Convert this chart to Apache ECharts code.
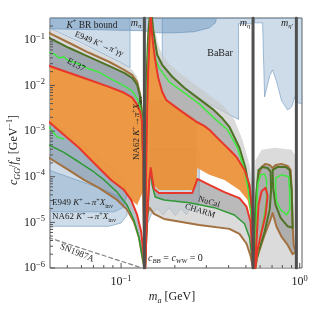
<!DOCTYPE html>
<html><head><meta charset="utf-8">
<script src="https://cdn.jsdelivr.net/npm/echarts@6/dist/echarts.min.js"></script>
<style>html,body{margin:0;padding:0;background:#fff}#c{width:332px;height:312px}</style>
</head><body><div id="c"></div>
<script>
// ---------- axes ----------
const X_MIN = 0.04, X_MAX = 1.03, Y_MIN = 1e-6, Y_MAX = 0.3;
const massLines = [0.135, 0.548, 0.958];           // m_pi, m_eta, m_eta'
const yMajor = [1e-6, 1e-5, 1e-4, 1e-3, 1e-2, 1e-1];
const yMinorMult = [2, 3, 4, 5, 6, 7, 8, 9];
const xMajor = [0.1, 1];
const xMinor = [0.05, 0.06, 0.07, 0.08, 0.09, 0.2, 0.3, 0.4, 0.5, 0.6, 0.7, 0.8, 0.9];

// ---------- curves  [m_a (GeV), c_GG/f_a (GeV^-1)] ----------
const brownUpperL = [[0.0394,0.142],[0.051,0.086],[0.0661,0.0519],[0.0856,0.033],[0.104,0.022],[0.1153,0.0171],[0.123,0.012],[0.128,0.0062],[0.131,0.0023],[0.133,2.3e-4],[0.135,1e-6]];
const brownLowerL = [[0.0394,2.6e-4],[0.051,1.4e-4],[0.062,8.5e-5],[0.0752,5.7e-5],[0.095,3.1e-5],[0.108,1.9e-5],[0.118,1.02e-5],[0.126,4.6e-6],[0.131,1.9e-6],[0.135,1e-6]];
const brownLowerR = [[0.1364,1e-6],[0.138,5.3e-6],[0.140,1.45e-5],[0.144,2.1e-5],[0.153,1.53e-5],[0.174,1.19e-5],[0.274,8.8e-6],[0.404,7.2e-6],[0.460,5.6e-6],[0.504,3.4e-6],[0.531,1.83e-6],[0.548,1e-6]];
const brownEta = [[0.552,1e-6],[0.559,6.8e-6],[0.5735,4.0e-5],[0.588,1.1e-4],[0.612,1.64e-4],[0.644,1.91e-4],[0.679,1.8e-4],[0.705,1.56e-4],[0.733,1.8e-4],[0.792,1.91e-4],[0.856,1.73e-4],[0.890,1.4e-4],[0.902,5.1e-5],[0.913,8.8e-6],[0.925,3.2e-6],[0.950,2.24e-6],[0.913,2.0e-6],[0.856,3.2e-6],[0.792,4.8e-6],[0.743,7.9e-6],[0.705,1.6e-5],[0.679,1.02e-5],[0.636,5.3e-6],[0.596,2.5e-6],[0.566,1.36e-6],[0.552,1e-6]];

const oliveUpperL = [[0.0394,0.111],[0.051,0.0668],[0.0661,0.0423],[0.0856,0.0269],[0.104,0.0189],[0.1153,0.0147],[0.123,0.0103],[0.128,0.0056],[0.131,0.0021],[0.133,2.3e-4],[0.135,1e-6]];
const oliveR = [[0.1364,1e-6],[0.1373,2.3e-4],[0.1382,0.0048],[0.140,0.0364],[0.1418,0.129],[0.1465,0.6],[0.1513,0.164],[0.1552,0.086],[0.1593,0.0469],[0.170,0.0283],[0.1934,0.0155],[0.226,0.00886],[0.264,0.0056],[0.3245,0.00307],[0.369,0.0019],[0.404,0.00124],[0.460,0.00043],[0.497,1.56e-4],[0.524,5.1e-5],[0.5375,1.45e-5],[0.548,1e-6]];
const oliveEtaL = [[0.5515,1e-6],[0.559,8.8e-6],[0.5735,5.1e-5],[0.588,1.4e-4],[0.620,1.64e-4],[0.661,1.56e-4],[0.6875,1.27e-4],[0.692,5.1e-5],[0.679,1.9e-5],[0.636,6.2e-6],[0.588,2.24e-6],[0.559,1e-6]];
const oliveEtaR = [[0.705,1.4e-4],[0.752,1.64e-4],[0.834,1.64e-4],[0.879,1.4e-4],[0.902,5.1e-5],[0.913,7.6e-6],[0.856,8.2e-6],[0.782,1.25e-5],[0.733,2.4e-5],[0.710,5.7e-5],[0.705,1.4e-4]];

const greenUpperL = [[0.0394,0.0519],[0.042,0.049],[0.0448,0.0405],[0.0478,0.042],[0.051,0.0346],[0.0581,0.0295],[0.0661,0.0231],[0.0752,0.0195],[0.0856,0.0147],[0.104,0.0098],[0.1153,0.0076],[0.123,0.0051],[0.128,0.0032],[0.131,0.0018],[0.133,2.3e-4],[0.135,1e-6]];
const greenR = [[0.1364,1e-6],[0.1382,3.9e-4],[0.140,0.008],[0.1418,0.0469],[0.1446,0.164],[0.1465,0.35],[0.1484,0.164],[0.1513,0.0777],[0.1552,0.0403],[0.163,0.0243],[0.186,0.012],[0.226,0.0069],[0.274,0.00395],[0.333,0.0019],[0.394,0.00107],[0.448,0.00043],[0.491,1.4e-4],[0.517,4.6e-5],[0.5375,1.13e-5],[0.548,1e-6]];
const greenLowerL = [[0.0394,0.00124],[0.0437,7.5e-4],[0.0478,6.7e-4]];
const greenEtaL = [[0.566,1e-6],[0.5735,1.9e-5],[0.581,6.6e-5],[0.604,1.1e-4],[0.636,1.15e-4],[0.6525,8.5e-5],[0.6525,3.1e-5],[0.628,1.13e-5],[0.604,5.3e-6],[0.581,2.24e-6],[0.569,1e-6]];
const greenEtaR = [[0.733,9.4e-5],[0.792,1.1e-4],[0.867,1e-4],[0.879,4.6e-5],[0.879,1.9e-5],[0.845,1.45e-5],[0.782,1.9e-5],[0.743,2.8e-5],[0.733,5.1e-5],[0.733,9.4e-5]];

const redUpperL = [[0.0394,0.0269],[0.051,0.0189],[0.0661,0.0133],[0.0856,0.0093],[0.104,0.0069],[0.1153,0.0054],[0.123,0.0038],[0.128,0.00264],[0.131,0.0016],[0.133,2.3e-4],[0.135,1e-6]];
const redLowerL = [[0.0394,0.0016],[0.0478,8.3e-4],[0.0581,4.3e-4],[0.0705,2.0e-4],[0.0879,8.5e-5],[0.104,5.1e-5],[0.1138,3.1e-5],[0.123,1.45e-5],[0.1296,6.2e-6],[0.133,2.5e-6],[0.135,1e-6]];
const redR = [[0.1364,1e-6],[0.1382,1.4e-4],[0.140,0.0029],[0.1418,0.022],[0.1446,0.129],[0.1465,0.35],[0.1484,0.164],[0.1513,0.0777],[0.1552,0.0364],[0.1614,0.0147],[0.170,0.0072],[0.179,0.0048],[0.198,0.00357],[0.220,0.00264],[0.241,0.00205],[0.264,0.0016],[0.292,0.0013],[0.312,0.00107],[0.355,6.4e-4],[0.404,3.9e-4],[0.4426,2.7e-4],[0.491,1.4e-4],[0.524,6.6e-5],[0.541,1.9e-5],[0.548,1e-6]];
const redLowerR = [[0.1364,1e-6],[0.140,1.45e-5],[0.144,8.5e-5],[0.1465,1.56e-4],[0.1493,9.4e-5],[0.153,5.4e-5],[0.163,4.4e-5],[0.198,4.4e-5],[0.2505,4.4e-5],[0.2604,6.6e-5],[0.2673,8.95e-5],[0.312,6.6e-5],[0.379,4.6e-5],[0.460,3.4e-5],[0.504,2.2e-5],[0.531,1.02e-5],[0.548,1e-6]];
const redEta = [[0.559,1e-6],[0.5735,4.1e-6],[0.588,2.4e-5],[0.612,4.8e-5],[0.644,5.7e-5],[0.661,3.8e-5],[0.644,1.45e-5],[0.612,6.2e-6],[0.581,2.5e-6],[0.566,1e-6]];

const mgreenLowerL = [[0.0394,5.0e-4],[0.0478,3.4e-4],[0.0581,2.1e-4],[0.0705,1.27e-4],[0.0803,8.5e-5],[0.095,4.6e-5],[0.108,2.4e-5],[0.118,1.13e-5],[0.126,4.6e-6],[0.131,1.9e-6],[0.135,1e-6]];
const mgreenLowerR = [[0.1364,1e-6],[0.140,8.8e-6],[0.144,8.5e-5],[0.1465,1.27e-4],[0.1493,6.6e-5],[0.1552,3.6e-5],[0.174,3.1e-5],[0.241,2.7e-5],[0.333,2.1e-5],[0.431,1.45e-5],[0.491,9.3e-6],[0.524,4.6e-6],[0.548,1e-6]];

const sn1987a = [[0.0394,4.6e-6],[0.131,1e-6]];

// ---------- shaded regions ----------
const brBound = [[0.0394,0.3],[0.3418,0.3],[0.3373,0.236],[0.312,0.183],[0.257,0.150],[0.198,0.142],[0.163,0.142],[0.131,0.158],[0.0752,0.166],[0.0394,0.174]];
const e949gg = [[0.0394,0.3],[0.1123,0.3],[0.1123,0.0243],[0.0974,0.033],[0.0752,0.0546],[0.0581,0.0904],[0.0394,0.183]];
const babar1 = [[0.170,0.3],[0.5444,0.3],[0.5444,0.224],[0.4543,0.224],[0.4543,0.0018],[0.394,0.0024],[0.312,0.00395],[0.257,0.0059],[0.212,0.0108],[0.1814,0.0199],[0.170,0.0269]];
const babar2 = [[0.559,0.3],[1.03,0.3],[1.03,0.00395],[0.9745,0.0042],[0.938,0.0056],[0.902,0.0034],[0.856,0.0029],[0.792,0.0046],[0.743,0.012],[0.705,0.022],[0.679,0.0163],[0.636,0.0056],[0.620,0.235],[0.559,0.235]];
const e949inv = [[0.0394,0.0018],[0.0661,3.9e-4],[0.0913,1.4e-4],[0.104,7.7e-5],[0.108,4.0e-5],[0.1026,2.1e-5],[0.0913,1.7e-5],[0.0394,1.7e-5]];
const na62inv = [[0.0394,1.4e-4],[0.0752,5.7e-5],[0.0974,3.7e-5],[0.108,2.4e-5],[0.108,1.45e-5],[0.1,9.7e-6],[0.0856,8.2e-6],[0.0394,8.2e-6]];
const na62mid = [[0.1382,3.9e-4],[0.274,3.9e-4],[0.274,3.1e-5],[0.264,1.7e-5],[0.2473,2.2e-5],[0.2318,1.45e-5],[0.2174,2e-5],[0.2011,1.4e-5],[0.186,2.1e-5],[0.1722,1.45e-5],[0.1593,2e-5],[0.1474,1.5e-5],[0.140,8.8e-6],[0.1382,4.1e-6]];
const haloULTop = [[0.0394,0.183],[0.051,0.111],[0.0661,0.0668],[0.0856,0.0423],[0.104,0.0283],[0.1153,0.022],[0.123,0.0155],[0.128,0.008],[0.131,0.0029],[0.135,0.00107]];
const haloURTop = [[0.1418,0.303],[0.1493,0.303],[0.1552,0.164],[0.1614,0.0777],[0.170,0.0469],[0.186,0.0298],[0.212,0.0189],[0.257,0.0108],[0.312,0.0062],[0.379,0.0034],[0.431,0.0018],[0.4785,6.4e-4],[0.524,1.8e-4],[0.559,3.1e-5],[0.5735,1e-6]];
const etaHalo = [[0.5375,1e-6],[0.5515,5.1e-5],[0.566,2.3e-4],[0.612,3.9e-4],[0.724,4.3e-4],[0.902,3.9e-4],[0.962,2.6e-4],[0.9745,3.1e-5],[0.9745,1e-6]];
const orangeLCorner = [[0.1338,5.1e-5],[0.123,2.4e-5]];
const orangeRLower = [[0.5444,2.5e-6],[0.5375,1.13e-5],[0.5104,3.1e-5],[0.460,5.1e-5],[0.379,8.5e-5],[0.312,1.1e-4],[0.2673,1.56e-4],[0.264,6.6e-5],[0.2505,5.1e-5],[0.163,5.1e-5],[0.153,6.3e-5],[0.1493,1.04e-4],[0.1465,1.7e-4],[0.144,1.04e-4],[0.140,1.9e-5],[0.1382,2.5e-6],[0.1364,1e-6]];
const orangeOverlay = [[0.144,0.0048],[0.174,0.0048],[0.264,0.0019],[0.264,6.6e-5],[0.2473,4.8e-5],[0.163,4.8e-5],[0.1493,6.3e-5],[0.144,1.4e-4]];

// ---------- built shapes ----------
const rev = a => a.slice().reverse();
const bandUL = oliveUpperL.concat(rev(redUpperL));
const bandUR = oliveR.concat(rev(redR));
const haloUL = haloULTop.concat(rev(redUpperL));
const haloUR = haloURTop.concat(rev(redR));
const bandLL = redLowerL.concat(rev(brownLowerL));
const bandLR1 = redLowerR.concat(rev(mgreenLowerR));
const bandLR2 = mgreenLowerR.concat(rev(brownLowerR));
const orangeL = redUpperL.slice(0, 9).concat(orangeLCorner, rev(redLowerL.slice(0, 7)));
const orangeR = redR.concat(orangeRLower);

const F = "'Liberation Serif','DejaVu Serif',serif";

function polyLayer(polys, style, z) {
  return {
    type: 'custom', z: z, silent: true, clip: true, animation: false,
    data: polys.map(p => p[0]),
    renderItem: (params, api) => ({
      type: 'polygon',
      shape: { points: polys[params.dataIndex].map(q => api.coord(q)) },
      style: Object.assign({}, style)
    })
  };
}
function lineS(data, color, width, z, dash) {
  return { type: 'line', data: data, showSymbol: false, symbol: 'none', silent: true, clip: true,
    animation: false, z: z, lineStyle: { color: color, width: width, type: dash || 'solid', join: 'round', cap: 'round' } };
}
const powLabel = v => {
  const e = Math.log10(v), r = Math.round(e);
  if (Math.abs(e - r) > 1e-6) return '';
  return '{b|10}{s|' + (r < 0 ? '\u2212' + (-r) : r) + '}';
};
const labRich = { b: { fontFamily: F, fontSize: 12, color: '#222', lineHeight: 16 },
                  s: { fontFamily: F, fontSize: 8.5, color: '#222', verticalAlign: 'top' } };

const yTickVals = yMajor.slice();
yMajor.forEach(d => yMinorMult.forEach(m => { if (m * d < Y_MAX) yTickVals.push(m * d); }));
const xTickVals = xMajor.concat(xMinor);

function rich(s) {
  return {
    n: { fontFamily: F, fontSize: s, fill: '#222', lineHeight: s * 1.35 },
    i: { fontFamily: F, fontSize: s, fill: '#222', fontStyle: 'italic', lineHeight: s * 1.35 },
    sp: { fontFamily: F, fontSize: s * 0.68, fill: '#222', verticalAlign: 'top' },
    sb: { fontFamily: F, fontSize: s * 0.68, fill: '#222', verticalAlign: 'bottom' },
    sbi: { fontFamily: F, fontSize: s * 0.68, fill: '#222', fontStyle: 'italic', verticalAlign: 'bottom' }
  };
}
function txt(t, x, y, s, rot, align) {
  return { type: 'text', x: x, y: y, rotation: rot || 0, z: 100, silent: true,
    style: { text: t, rich: rich(s), align: align || 'center', verticalAlign: 'middle', fontFamily: F, fontSize: s, fill: '#222' } };
}
const kpi = '{i|K}{sp|+}{n|\u2192}{i|\u03c0}{sp|+}';

const blueFill = { fill: 'rgba(125,163,198,0.38)', stroke: 'rgba(105,148,188,0.75)', lineWidth: 0.8 };

const option = {
  animation: false,
  grid: { left: 50, right: 30, top: 18, bottom: 44, show: true, borderColor: '#5a5a5a', borderWidth: 1, backgroundColor: '#fff' },
  xAxis: { type: 'log', logBase: 10, min: X_MIN, max: X_MAX,
    axisLine: { show: false }, axisTick: { show: false }, splitLine: { show: false }, minorTick: { show: false },
    axisLabel: { formatter: powLabel, rich: labRich, margin: 6, showMinLabel: true, showMaxLabel: true } },
  yAxis: { type: 'log', logBase: 10, min: Y_MIN, max: Y_MAX,
    axisLine: { show: false }, axisTick: { show: false }, splitLine: { show: false },
    axisLabel: { formatter: powLabel, rich: labRich, margin: 5 } },
  series: [
    polyLayer([babar1, babar2, e949gg, e949inv, na62inv, na62mid], blueFill, 1),
    polyLayer([brBound], { fill: 'rgba(100,145,186,0.45)', stroke: 'rgba(100,145,186,0.8)', lineWidth: 0.8 }, 2),
    polyLayer([haloUL, haloUR, etaHalo, bandLR2], { fill: 'rgba(200,200,200,0.65)' }, 3),
    polyLayer([bandUL], { fill: 'rgba(118,132,148,0.6)' }, 4),
    polyLayer([bandUR], { fill: 'rgba(150,150,150,0.55)' }, 4),
    polyLayer([bandLL], { fill: 'rgba(110,130,150,0.5)' }, 4),
    polyLayer([bandLR1], { fill: 'rgba(140,140,140,0.6)' }, 4),
    polyLayer([brownEta], { fill: 'rgba(150,150,150,0.65)' }, 4),
    polyLayer([orangeL, orangeR], { fill: 'rgba(236,146,58,0.95)' }, 5),
    polyLayer([orangeOverlay], { fill: 'rgba(190,100,20,0.07)' }, 6),
    lineS(brownUpperL, '#a3713f', 2, 10), lineS(brownLowerL, '#a3713f', 2, 10),
    lineS(brownLowerR, '#a3713f', 2, 10), lineS(brownEta, '#a3713f', 2, 10),
    lineS(mgreenLowerL, '#2f9a35', 1.5, 11), lineS(mgreenLowerR, '#2f9a35', 1.5, 11),
    lineS(oliveUpperL, '#4f7325', 2, 12), lineS(oliveR, '#4f7325', 2, 12),
    lineS(oliveEtaL, '#4f7325', 2, 12), lineS(oliveEtaR, '#4f7325', 2, 12),
    lineS(greenUpperL, '#3fe83f', 1.5, 13), lineS(greenR, '#3fe83f', 1.5, 13), lineS(greenLowerL, '#3fe83f', 1.5, 13),
    lineS(greenEtaL, '#3fe83f', 1.5, 13), lineS(greenEtaR, '#3fe83f', 1.5, 13),
    lineS(redUpperL, '#e8372a', 2, 14), lineS(redLowerL, '#e8372a', 2, 14),
    lineS(redR, '#e8372a', 2, 14), lineS(redLowerR, '#e8372a', 2, 14), lineS(redEta, '#e8372a', 2, 14),
    ...massLines.map(m => lineS([[m, Y_MIN], [m, Y_MAX]], '#505050', 3, 20)),
    lineS(sn1987a, '#808080', 1.2, 20, [4, 3]),
    { type: 'custom', z: 30, clip: false, silent: true, animation: false,
      data: yTickVals.map(v => [X_MIN, v]),
      renderItem: (params, api) => {
        const p = api.coord([X_MIN, yTickVals[params.dataIndex]]);
        const L = params.dataIndex < yMajor.length ? 5 : 3;
        return { type: 'line', shape: { x1: p[0], y1: p[1], x2: p[0] + L, y2: p[1] }, style: { stroke: '#555', lineWidth: 1 } };
      } },
    { type: 'custom', z: 30, clip: false, silent: true, animation: false,
      data: xTickVals.map(v => [v, Y_MIN]),
      renderItem: (params, api) => {
        const p = api.coord([xTickVals[params.dataIndex], Y_MIN]);
        const L = params.dataIndex < xMajor.length ? 5 : 3;
        return { type: 'line', shape: { x1: p[0], y1: p[1], x2: p[0], y2: p[1] - L }, style: { stroke: '#555', lineWidth: 1 } };
      } }
  ],
  graphic: [
    txt('{i|K}{sp|+}{n| BR bound}', 92, 25, 9.5),
    txt('{i|m}{sbi|\u03c0}', 136, 23, 10),
    txt('{n|E949 }' + kpi + '{i|\u03b3\u03b3}', 99, 44, 8.5, -0.40),
    txt('{n|E137}', 76, 65, 9, -0.5),
    txt('{n|BaBar}', 220, 53, 10),
    txt('{i|m}{sbi|\u03b7}', 245, 23, 10),
    txt('{i|m}{sbi|\u03b7\u2032}', 287, 23, 10),
    txt('{n|NA62 }' + kpi + '{i|X}{sb|inv}', 137, 128, 9, Math.PI / 2),
    txt('{n|E949 }' + kpi + '{i|X}{sb|inv}', 52, 203, 9, 0, 'left'),
    txt('{n|NA62 }' + kpi + '{i|X}{sb|inv}', 52, 217, 9, 0, 'left'),
    txt('{n|SN1987A}', 77, 253, 9, -0.38),
    txt('{i|c}{sbi|BB}{n| = }{i|c}{sbi|WW}{n| = 0}', 148, 258, 10, 0, 'left'),
    txt('{n|NuCal}', 209, 202, 8.5, -0.3),
    txt('{n|CHARM}', 200, 211, 8.5, -0.3),
    txt('{i|c}{sbi|GG}{n|/}{i|f}{sbi|a}{n| [GeV}{sp|\u22121}{n|]}', 14, 150, 12, Math.PI / 2),
    txt('{i|m}{sbi|a}{n| [GeV]}', 172, 297, 12)
  ]
};
echarts.init(document.getElementById('c'), null, { renderer: 'canvas' }).setOption(option);
</script>
</body></html>
